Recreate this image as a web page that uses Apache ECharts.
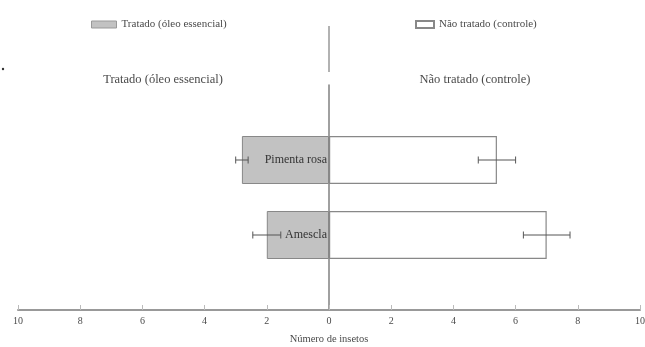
<!DOCTYPE html>
<html>
<head>
<meta charset="utf-8">
<script src="https://cdn.jsdelivr.net/npm/echarts@6/dist/echarts.min.js"></script>
<style>html,body{margin:0;padding:0;background:#fff;}#c{width:645px;height:347px;}</style>
</head>
<body>
<div id="c"></div>
<script>
const categories = ['', 'Pimenta rosa', 'Amescla', ''];
const treated = ['-', -2.8, -2.0, '-'];
const treatedErr = [0, 0.2, 0.45, 0];
const control = ['-', 5.4, 7.0, '-'];
const controlErr = [0, 0.6, 0.75, 0];
const seriesNames = ['Tratado (óleo essencial)', 'Não tratado (controle)'];

const FONT = 'Liberation Serif';
const TXT = '#4a4a4a';

function errData(vals, errs) {
  const out = [];
  vals.forEach((v, i) => { if (v !== '-') out.push([v, i, errs[i]]); });
  return out;
}

function renderErr(params, api) {
  const v = api.value(0), ci = api.value(1), e = api.value(2);
  const p1 = api.coord([v - e, ci]);
  const p2 = api.coord([v + e, ci]);
  const h = 3.5;
  const st = { stroke: '#555', lineWidth: 1 };
  return {
    type: 'group',
    children: [
      { type: 'line', shape: { x1: p1[0], y1: p1[1], x2: p2[0], y2: p2[1] }, style: st },
      { type: 'line', shape: { x1: p1[0], y1: p1[1] - h, x2: p1[0], y2: p1[1] + h }, style: st },
      { type: 'line', shape: { x1: p2[0], y1: p2[1] - h, x2: p2[0], y2: p2[1] + h }, style: st }
    ]
  };
}

const chart = echarts.init(document.getElementById('c'));
const option = {
  animation: false,
  backgroundColor: '#fff',
  textStyle: { fontFamily: FONT },
  legend: [
    { data: [{ name: seriesNames[0], icon: 'rect', itemStyle: { borderWidth: 1, borderColor: '#999' } }], left: 86, top: 14,
      itemWidth: 25, itemHeight: 7, itemGap: 5,
      textStyle: { fontFamily: FONT, fontSize: 11, color: TXT } },
    { data: [{ name: seriesNames[1], icon: 'rect' }], left: 410, top: 14,
      itemWidth: 18, itemHeight: 7, itemGap: 4,
      textStyle: { fontFamily: FONT, fontSize: 11, color: TXT } }
  ],
  grid: { left: 18, right: 5, top: 85, bottom: 37, containLabel: false, outerBoundsMode: 'none' },
  xAxis: {
    type: 'value', min: -10, max: 10, interval: 2,
    name: 'Número de insetos', nameLocation: 'middle', nameGap: 24,
    nameTextStyle: { fontFamily: FONT, fontSize: 10.5, color: TXT },
    axisLine: { show: true, lineStyle: { color: '#999', width: 2 } },
    axisTick: { show: true, inside: true, length: 5, lineStyle: { color: '#bbb' } },
    axisLabel: { fontFamily: FONT, fontSize: 10, color: TXT, margin: 6,
      formatter: v => String(Math.abs(v)) },
    splitLine: { show: false }
  },
  yAxis: {
    type: 'category', data: categories, inverse: true, boundaryGap: false,
    axisLine: { show: true, onZero: true, lineStyle: { color: '#808080', width: 1.5 } },
    axisTick: { show: false },
    axisLabel: { show: false }
  },
  series: [
    { name: seriesNames[0], type: 'bar', data: treated, barWidth: 48, barGap: '-100%',
      itemStyle: { color: '#c2c2c2', borderColor: '#888', borderWidth: 1 },
      label: { show: true, position: 'insideRight', distance: 2,
        formatter: p => categories[p.dataIndex],
        fontFamily: FONT, fontSize: 12, color: '#333' } },
    { name: seriesNames[1], type: 'bar', data: control, barWidth: 48, barGap: '-100%',
      itemStyle: { color: '#ffffff', borderColor: '#888', borderWidth: 1.2 } },
    { type: 'custom', renderItem: renderErr, data: errData(treated, treatedErr), z: 5 },
    { type: 'custom', renderItem: renderErr, data: errData(control, controlErr), z: 5 }
  ]
};
chart.setOption(option);

const x0 = chart.convertToPixel({ xAxisIndex: 0 }, 0);
chart.setOption({
  graphic: [
    { type: 'line', shape: { x1: x0, y1: 26, x2: x0, y2: 72 }, style: { stroke: '#999', lineWidth: 1.5 } },
    { type: 'circle', shape: { cx: 3, cy: 69, r: 1.2 }, style: { fill: '#333' } },
    { type: 'text', x: x0 - 166, y: 80, style: { text: seriesNames[0], fontFamily: FONT, fontSize: 12.5, fill: TXT, textAlign: 'center', textVerticalAlign: 'middle' } },
    { type: 'text', x: x0 + 146, y: 80, style: { text: seriesNames[1], fontFamily: FONT, fontSize: 12.5, fill: TXT, textAlign: 'center', textVerticalAlign: 'middle' } }
  ]
});
</script>
</body>
</html>
